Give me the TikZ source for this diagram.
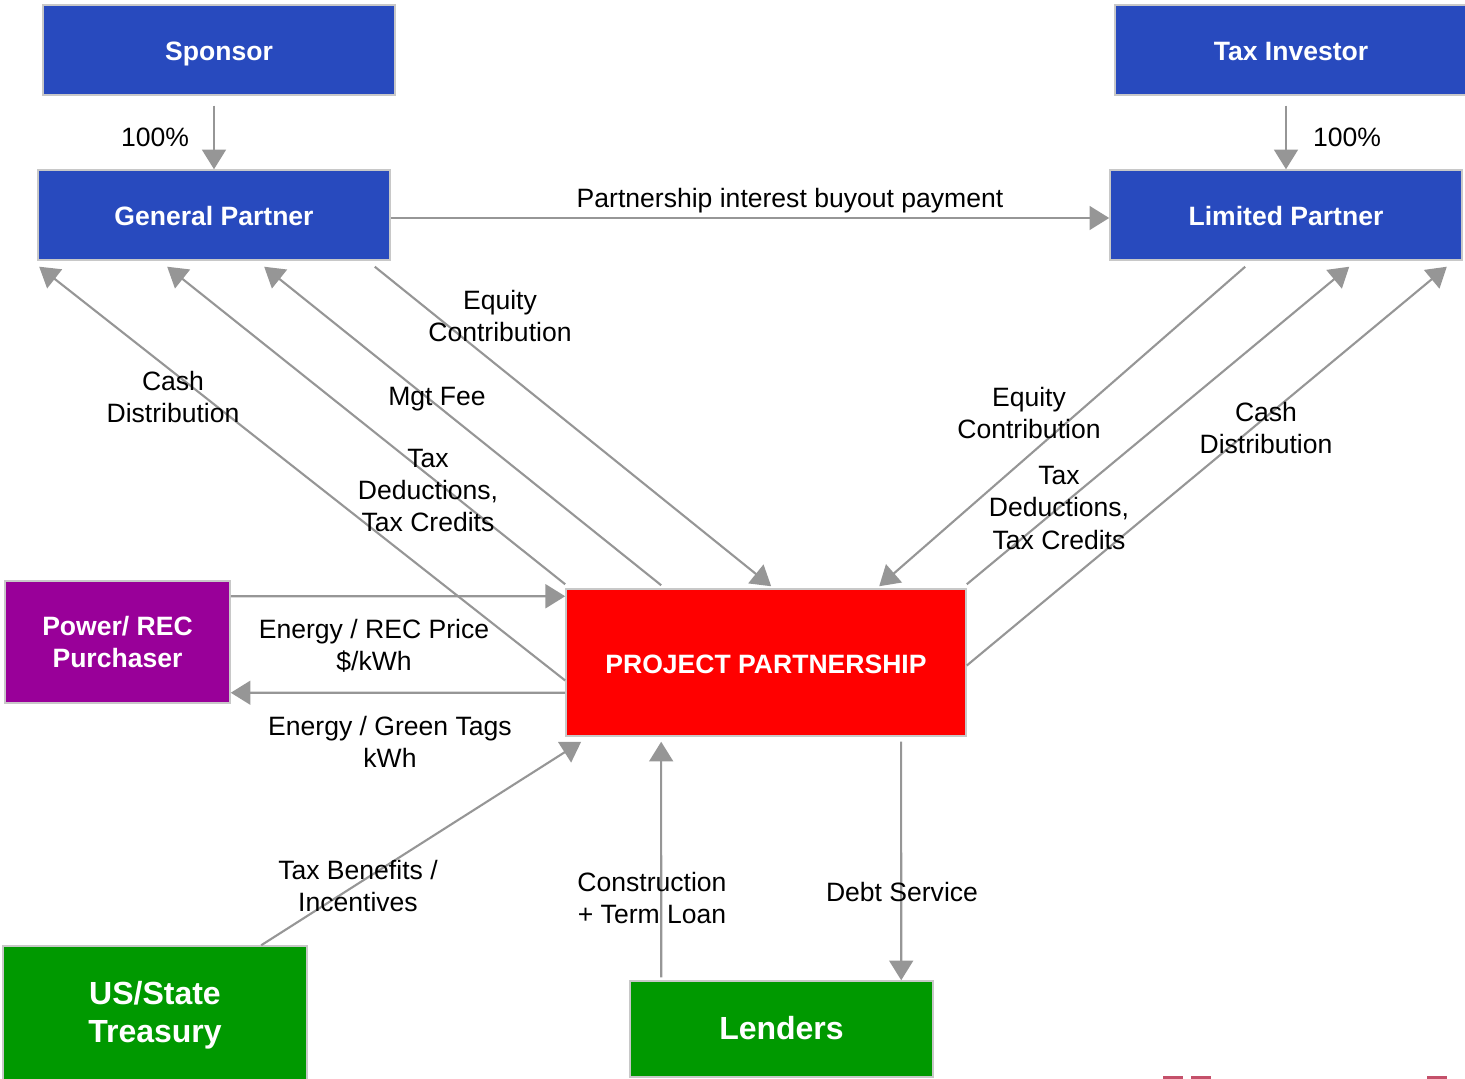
\documentclass[tikz,border=0pt]{standalone}
\usepackage{fontspec}
\setmainfont{Liberation Sans}
\usepackage{xcolor}
\usetikzlibrary{arrows.meta,positioning,calc}
\definecolor{partBlue}{HTML}{284ABE}
\definecolor{projRed}{HTML}{FF0000}
\definecolor{buyPurple}{HTML}{990099}
\definecolor{govGreen}{HTML}{009900}
\definecolor{flowGray}{HTML}{969696}
\definecolor{edgeGray}{HTML}{C8C8C8}
\definecolor{markPink}{HTML}{C4506A}

\begin{document}
\begin{tikzpicture}[x=0.01cm,y=-0.01cm,
  every node/.style={inner sep=1pt},
  lbl/.style={font=\fontsize{7.55}{9.1}\selectfont,align=center,text=black},
  box/.style={draw=edgeGray,line width=0.4pt,text=white,align=center,
    font=\fontsize{7.55}{9.1}\selectfont\bfseries,inner sep=0pt},
  oneline/.style={text height=1.6ex,text depth=0.45ex},
  flow/.style={draw=flowGray,line width=0.6pt,-{Triangle[length=5.6pt,width=6.8pt]}}]
\useasboundingbox (0,0) rectangle (1465,1079);
\clip (0,0) rectangle (1465,1079);
% --- owners ---
\node[box,oneline,fill=partBlue,minimum width=3.52cm,minimum height=0.9cm] (sponsor) at (219,50) {Sponsor};
\node[box,oneline,fill=partBlue,minimum width=3.52cm,minimum height=0.9cm] (taxinv) at (1291,50) {Tax Investor};
\node[box,oneline,fill=partBlue,minimum width=3.52cm,minimum height=0.9cm] (gp) at (214,215) {General Partner};
\node[box,oneline,fill=partBlue,minimum width=3.52cm,minimum height=0.9cm] (lp) at (1286,215) {Limited Partner};
% --- project and counterparties ---
\node[box,oneline,fill=projRed,minimum width=4.0cm,minimum height=1.47cm] (pp) at (766,662.5) {PROJECT PARTNERSHIP};
\node[box,fill=buyPurple,minimum width=2.25cm,minimum height=1.22cm] (power) at (117.5,642) {Power/ REC\\Purchaser};
\node[box,fill=govGreen,minimum width=3.04cm,minimum height=1.38cm,
  font=\fontsize{9.1}{10.8}\selectfont\bfseries] (treasury) at (155,1015) {US/State\\Treasury};
\node[box,oneline,fill=govGreen,minimum width=3.03cm,minimum height=0.96cm,
  font=\fontsize{9.1}{10.8}\selectfont\bfseries] (lenders) at (781.5,1029) {Lenders};

% --- ownership ---
\draw[flow] ($(sponsor.south -| gp.north)+(0,10)$) -- (gp.north);
\draw[flow] ($(taxinv.south -| lp.north)+(0,10)$) -- (lp.north);
\node[lbl] at (155,137) {100\%};
\node[lbl] at (1347,137) {100\%};
\draw[flow] ($(gp.east)+(0,3)$) -- ($(lp.west)+(0,3)$);
\node[lbl] at (790,201) {Partnership interest buyout payment};

% --- general partner side ---
\draw[flow] ($(pp.west)+(0,18)$) -- ($(gp.south west)+(2,6)$);
\draw[flow] ($(pp.north west)+(0,-4)$) -- ($(gp.south west)+(130,6)$);
\draw[flow] ($(pp.north west)+(96,-3)$) -- ($(gp.south west)+(227,6)$);
\draw[flow] ($(gp.south east)+(-16,6)$) -- ($(pp.north west)+(206,-2)$);
\node[lbl] at (173,397) {Cash\\Distribution};
\node[lbl] at (428,490) {Tax\\Deductions,\\Tax Credits};
\node[lbl] at (437,399) {Mgt Fee};
\node[lbl] at (500,316) {Equity\\Contribution};

% --- limited partner side ---
\draw[flow] ($(lp.south west)+(136,6)$) -- ($(pp.north west)+(314,-2)$);
\draw[flow] ($(pp.north east)+(0,-4)$) -- ($(lp.south west)+(240,6)$);
\draw[flow] ($(pp.east)+(0,3)$) -- ($(lp.south east)+(-16,6)$);
\node[lbl] at (1029,413) {Equity\\Contribution};
\node[lbl] at (1059,508) {Tax\\Deductions,\\Tax Credits};
\node[lbl] at (1266,428) {Cash\\Distribution};

% --- offtake ---
\draw[flow] ($(power.north east)+(0,16)$) -- ($(pp.north west)+(0,8)$);
\draw[flow] ($(pp.south west)+(0,-44)$) -- ($(power.south east)+(0,-11)$);
\node[lbl] at (374,646) {Energy / REC Price\\\$/kWh};
\node[lbl] at (390,742) {Energy / Green Tags\\kWh};

% --- incentives and debt ---
\draw[flow] ($(treasury.north west)+(259,0)$) -- ($(pp.south west)+(16,5)$);
\draw[flow] ($(lenders.north west)+(32,-3)$) -- ($(pp.south west)+(96,5)$);
\draw[flow] ($(pp.south west)+(336,5)$) -- ($(lenders.north west)+(272,0)$);
\node[lbl] at (358,886) {Tax Benefits /\\Incentives};
\node[lbl] at (652,898) {Construction\\+ Term Loan};
\node[lbl] at (902,892) {Debt Service};

% --- marks at the lower edge ---
\foreach \a/\b in {1163/1183,1191/1211,1427/1447}
  \draw[markPink,line width=0.6pt] (\a,1077.5) -- (\b,1077.5);
\end{tikzpicture}
\end{document}
